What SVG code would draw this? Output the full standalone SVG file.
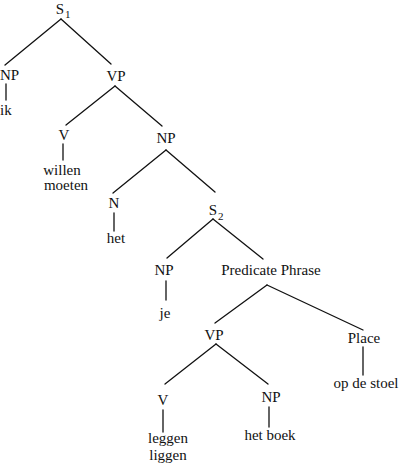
<svg xmlns="http://www.w3.org/2000/svg" width="400" height="463" viewBox="0 0 400 463">
<style>
text{font-family:"Liberation Serif","Times New Roman",serif;font-size:15px;fill:#111;text-anchor:middle}
.sub{font-size:11px;text-anchor:start}
.st{text-anchor:start}
line{stroke:#111;stroke-width:1.3;stroke-linecap:round}
</style>
<rect width="400" height="463" fill="#fff"/>
<g id="connectors">
<line x1="61" y1="19" x2="5" y2="65"/>
<line x1="61" y1="19" x2="111" y2="64"/>
<line x1="6" y1="84" x2="6" y2="100"/>
<line x1="115" y1="86" x2="66" y2="125"/>
<line x1="115" y1="86" x2="162" y2="126"/>
<line x1="63" y1="144" x2="63" y2="160"/>
<line x1="166" y1="150" x2="113" y2="193"/>
<line x1="166" y1="150" x2="215" y2="192"/>
<line x1="114" y1="213" x2="114" y2="231"/>
<line x1="213" y1="219" x2="167" y2="258"/>
<line x1="213" y1="219" x2="263" y2="259"/>
<line x1="166" y1="281" x2="166" y2="300"/>
<line x1="267" y1="285" x2="215" y2="323"/>
<line x1="267" y1="285" x2="363" y2="330"/>
<line x1="363" y1="347" x2="363" y2="375"/>
<line x1="216" y1="344" x2="165" y2="384"/>
<line x1="216" y1="344" x2="268" y2="384"/>
<line x1="163" y1="410" x2="163" y2="432"/>
<line x1="269" y1="407" x2="269" y2="427"/>
</g>
<g id="S1"><text x="60" y="14">S</text><text class="sub" x="65" y="18">1</text></g>
<g id="NP1"><text class="st" x="0" y="80">NP</text></g>
<g id="ik"><text class="st" x="0" y="115">ik</text></g>
<g id="VP1"><text x="116" y="81">VP</text></g>
<g id="V1"><text x="64" y="140">V</text></g>
<g id="willen"><text x="62" y="175">willen</text><text x="66" y="190">moeten</text></g>
<g id="NP2"><text x="166" y="143">NP</text></g>
<g id="N"><text x="114" y="208">N</text></g>
<g id="het"><text x="116" y="243">het</text></g>
<g id="S2"><text x="213" y="215">S</text><text class="sub" x="218" y="220">2</text></g>
<g id="NP3"><text x="164" y="275">NP</text></g>
<g id="je"><text x="165" y="318">je</text></g>
<g id="PredicatePhrase"><text x="271" y="275">Predicate Phrase</text></g>
<g id="VP2"><text x="214" y="340">VP</text></g>
<g id="Place"><text x="364" y="343">Place</text></g>
<g id="opdestoel"><text x="366" y="388">op de stoel</text></g>
<g id="V2"><text x="163" y="405">V</text></g>
<g id="NP4"><text x="271" y="402">NP</text></g>
<g id="leggen"><text x="168" y="443">leggen</text><text x="168" y="460">liggen</text></g>
<g id="hetboek"><text x="270" y="440">het boek</text></g>
</svg>
